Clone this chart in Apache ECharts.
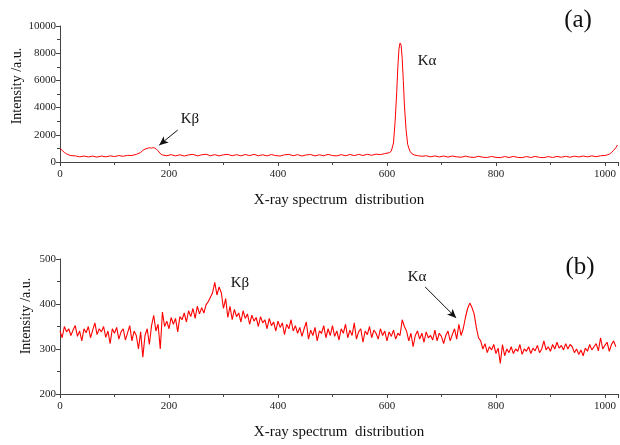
<!DOCTYPE html>
<html><head><meta charset="utf-8">
<script src="https://cdn.jsdelivr.net/npm/echarts@6/dist/echarts.min.js"></script>
<style>html,body{margin:0;padding:0;background:#fff}#c{width:620px;height:445px}</style>
</head><body><div id="c"></div>
<script>
// Panel (a): channel / intensity
const aChannels = [0,4,8,12,16,20,28,36,44,52,60,68,76,84,92,100,108,116,124,132,140,148,152,156,160,164,168,172,176,180,184,188,196,204,212,220,228,236,244,252,260,268,276,284,292,300,308,316,324,332,340,348,356,364,372,380,388,396,404,412,420,428,436,444,452,460,468,476,484,492,500,508,516,524,532,540,548,556,564,572,580,588,596,604,608,612,615,618,620,622,624,626,628,630,632,635,638,642,646,650,656,664,672,680,688,696,704,712,720,728,736,744,752,760,768,776,784,792,800,808,816,824,832,840,848,856,864,872,880,888,896,904,912,920,928,936,944,952,960,968,976,984,992,1000,1004,1008,1012,1016,1020,1023];
const aIntensity = [1000,850,700,600,520,470,
450,380,440,370,430,360,440,380,450,400,470,420,490,480,560,
700,850,950,1000,1050,1020,1060,980,820,620,520,
460,540,450,530,440,520,560,450,530,570,460,540,450,530,560,460,540,450,550,470,560,460,530,450,550,470,440,530,560,460,540,440,520,550,450,530,460,560,470,450,540,460,550,470,560,480,570,490,580,540,620,
680,800,1400,3000,5200,7000,8300,8750,8600,7600,6000,4200,2400,1300,800,600,520,470,
420,460,380,450,370,440,360,440,380,350,430,360,340,420,350,330,410,340,320,400,330,410,340,320,400,330,410,340,320,400,330,410,350,420,350,430,370,440,380,450,390,460,
480,520,580,690,860,1050,1250];
// Panel (b): intensity sampled every 4 channels
const bStep = 4;
const bIntensity = [340,325,350,338,345,330,342,352,328,340,318,345,336,350,325,342,358,332,345,338,350,326,340,312,345,335,348,322,338,345,320,336,352,318,340,330,300,338,
282,330,345,310,352,375,340,355,300,382,350,362,345,370,355,368,338,372,365,380,360,385,372,390,368,395,378,392,380,398,405,415,425,448,420,438,425,390,412,370,395,365,388,372,380,360,385,368,378,355,375,362,370,350,372,358,365,345,368,352,360,340,362,348,358,332,355,345,365,340,352,335,348,328,345,360,322,342,330,348,318,340,335,352,325,345,330,352,328,340,320,345,335,355,325,342,330,358,322,338,345,315,340,332,350,325,342,335,322,345,330,340,318,338,328,342,322,335,330,365,350,340,318,335,305,330,340,322,335,315,338,325,330,320,342,318,335,328,312,330,340,318,332,345,322,355,330,345,370,390,402,392,378,348,325,318,300,312,292,305,298,310,290,302,268,310,285,300,292,305,290,300,295,310,288,300,295,305,290,302,296,308,292,300,318,298,305,295,310,300,315,302,308,298,312,300,310,305,292,300,288,298,285,302,295,310,298,305,312,296,325,300,308,315,295,310,318,305];
const xTicks = [0,200,400,600,800,1000];
const aYTicks = [0,2000,4000,6000,8000,10000];
const bYTicks = [200,300,400,500];
const xTitle = 'X-ray spectrum  distribution';
const yTitle = 'Intensity /a.u.';

const aData = aChannels.map((c,i)=>[c,aIntensity[i]]);
const bData = bIntensity.map((v,i)=>[i*bStep,v]);
const FONT = '"Liberation Serif","Times New Roman",serif';
const axisCol = '#444';
function xAxis(gi){
  return {gridIndex:gi,type:'value',min:0,max:1024,interval:200,
    name:xTitle,nameLocation:'middle',nameGap:31,
    nameTextStyle:{fontFamily:FONT,fontSize:15,color:'#111'},
    axisLine:{lineStyle:{color:axisCol,width:1}},
    axisTick:{show:true,length:4,lineStyle:{color:axisCol}},
    minorTick:{show:true,splitNumber:2,length:3,lineStyle:{color:axisCol}},
    splitLine:{show:false},
    axisLabel:{fontFamily:FONT,fontSize:11,color:'#222',margin:7,showMaxLabel:false,
      formatter:v=>xTicks.includes(v)?String(v):''}};
}
function yAxis(gi,ticks){
  return {gridIndex:gi,type:'value',min:ticks[0],max:ticks[ticks.length-1],interval:ticks[1]-ticks[0],
    axisLine:{show:true,lineStyle:{color:axisCol,width:1}},
    axisTick:{show:true,length:4,lineStyle:{color:axisCol}},
    minorTick:{show:true,splitNumber:2,length:3,lineStyle:{color:axisCol}},
    splitLine:{show:false},
    axisLabel:{fontFamily:FONT,fontSize:11,color:'#222',margin:4,formatter:v=>String(v)}};
}
const arrowStyle = {color:'#111',width:1,type:'solid'};
const chart = echarts.init(document.getElementById('c'),null,{renderer:'canvas'});
chart.setOption({
  animation:false,
  grid:[{left:60,top:26,width:558,height:136},{left:60,top:259,width:558,height:135}],
  xAxis:[xAxis(0),xAxis(1)],
  yAxis:[yAxis(0,aYTicks),yAxis(1,bYTicks)],
  series:[
    {type:'line',xAxisIndex:0,yAxisIndex:0,data:aData,showSymbol:false,lineStyle:{color:'#ff0000',width:1},
      markLine:{silent:true,symbol:['none','arrow'],symbolSize:[6,9],label:{show:false},lineStyle:arrowStyle,
        data:[[{coord:[216,2350]},{coord:[182,1240]}]]}},
    {type:'line',xAxisIndex:1,yAxisIndex:1,data:bData,showSymbol:false,lineStyle:{color:'#ff0000',width:1.1},
      markLine:{silent:true,symbol:['none','arrow'],symbolSize:[6,9],label:{show:false},lineStyle:arrowStyle,
        data:[[{coord:[670,438]},{coord:[727,369]}]]}}
  ],
  graphic:[
    {type:'text',x:17,y:86,rotation:Math.PI/2,style:{text:yTitle,font:'14px '+FONT,fill:'#111',align:'center',verticalAlign:'middle'}},
    {type:'text',x:26,y:316,rotation:Math.PI/2,style:{text:yTitle,font:'14px '+FONT,fill:'#111',align:'center',verticalAlign:'middle'}},
    {type:'text',x:578,y:20,style:{text:'(a)',font:'25px '+FONT,fill:'#111',align:'center',verticalAlign:'middle'}},
    {type:'text',x:580,y:267,style:{text:'(b)',font:'25px '+FONT,fill:'#111',align:'center',verticalAlign:'middle'}},
    {type:'text',x:427,y:61,style:{text:'Kα',font:'15px '+FONT,fill:'#111',align:'center',verticalAlign:'middle'}},
    {type:'text',x:190,y:119,style:{text:'Kβ',font:'15px '+FONT,fill:'#111',align:'center',verticalAlign:'middle'}},
    {type:'text',x:240,y:283,style:{text:'Kβ',font:'15px '+FONT,fill:'#111',align:'center',verticalAlign:'middle'}},
    {type:'text',x:417,y:277,style:{text:'Kα',font:'15px '+FONT,fill:'#111',align:'center',verticalAlign:'middle'}}
  ]
});
</script></body></html>
